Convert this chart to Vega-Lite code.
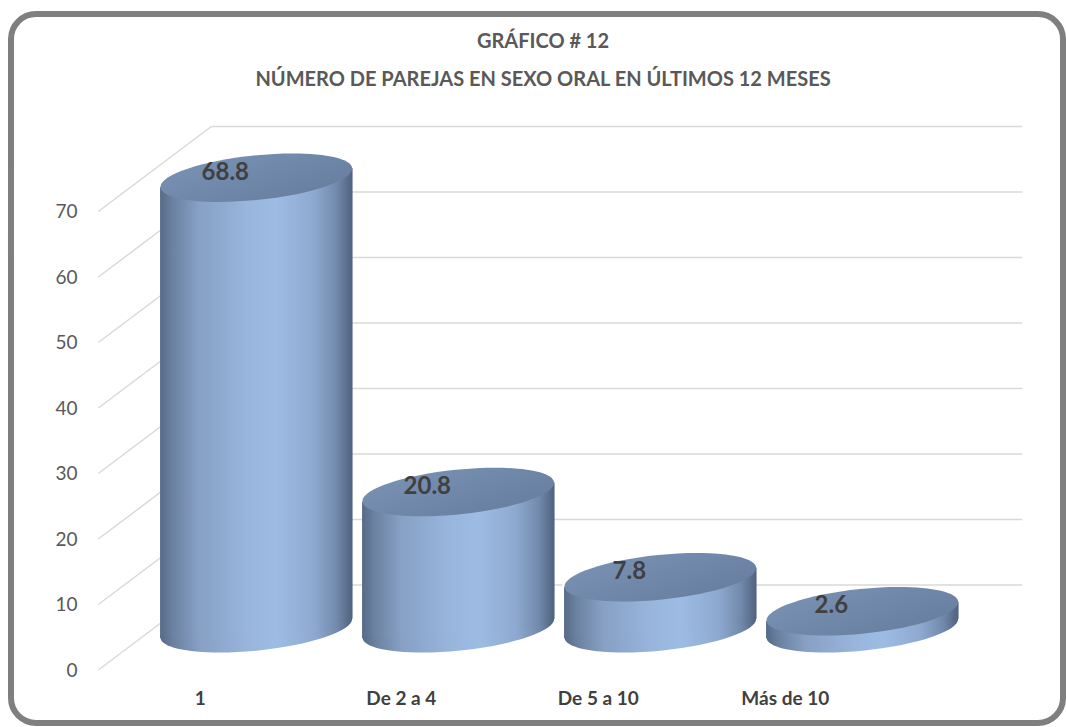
{
  "$schema": "https://vega.github.io/schema/vega-lite/v6.json",
  "width": 1052,
  "height": 709,
  "autosize": {"type": "none"},
  "padding": {"left": 11, "top": 14, "right": 3, "bottom": 4},
  "background": "white",
  "view": {"stroke": "#7f7f7f", "strokeWidth": 6, "cornerRadius": 25, "fill": "white"},
  "title": {
    "text": ["GRÁFICO # 12", "NÚMERO DE PAREJAS EN SEXO ORAL EN ÚLTIMOS 12 MESES"],
    "anchor": "middle",
    "frame": "group",
    "orient": "top",
    "offset": -96,
    "baseline": "bottom",
    "lineHeight": 38,
    "font": "Lato",
    "fontSize": 20,
    "fontWeight": "bold",
    "color": "#595959",
    "dx": 6
  },
  "data": {
    "values": [
      {"cat": "1", "value": 68.8},
      {"cat": "De 2 a 4", "value": 20.8},
      {"cat": "De 5 a 10", "value": 7.8},
      {"cat": "Más de 10", "value": 2.6}
    ]
  },
  "layer": [
    {
      "data": {"values": [{"v": 0}, {"v": 10}, {"v": 20}, {"v": 30}, {"v": 40}, {"v": 50}, {"v": 60}, {"v": 70}]},
      "mark": {"type": "rule", "color": "#d9d9d9", "strokeWidth": 1.5, "yOffset": -43.3, "xOffset": -45, "x2Offset": 160},
      "encoding": {
        "x": {"datum": "1", "type": "nominal", "scale": {"type": "band", "domain": ["1", "De 2 a 4", "De 5 a 10", "Más de 10"], "paddingInner": 0.047, "paddingOuter": 0.6275, "align": 0.588}, "axis": {"orient": "bottom", "offset": -34, "domain": false, "ticks": false, "tickSize": 0, "labelPadding": 0, "labelOffset": {"condition": [{"test": "datum.value === '1'", "value": -56}, {"test": "datum.value === 'De 2 a 4'", "value": -57}, {"test": "datum.value === 'De 5 a 10'", "value": -62}], "value": -77}, "labelFont": "Lato", "labelFontSize": 19, "labelFontWeight": "bold", "labelColor": "#404040", "labelAngle": 0, "title": null}},
        "x2": {"datum": "Más de 10"},
        "y": {
          "field": "v", "type": "quantitative",
          "scale": {"domain": [-14.46, 93.79], "nice": false, "zero": false},
          "axis": {"values": [0, 10, 20, 30, 40, 50, 60, 70], "orient": "left", "offset": -66, "domain": false, "ticks": false, "tickSize": 0, "grid": false, "labelPadding": 0, "labelOffset": 42, "labelFont": "Lato", "labelFontSize": 19, "labelColor": "#595959", "title": null}
        }
      }
    },
    {
      "data": {"values": [{"v": 0}, {"v": 10}, {"v": 20}, {"v": 30}, {"v": 40}, {"v": 50}, {"v": 60}, {"v": 70}]},
      "mark": {"type": "rule", "color": "#d9d9d9", "strokeWidth": 1.5, "xOffset": -158, "x2Offset": -45, "yOffset": 41.7, "y2Offset": -43.3},
      "encoding": {
        "x": {"datum": "1", "type": "nominal", "scale": {"type": "band", "domain": ["1", "De 2 a 4", "De 5 a 10", "Más de 10"], "paddingInner": 0.047, "paddingOuter": 0.6275, "align": 0.588}, "axis": {"orient": "bottom", "offset": -34, "domain": false, "ticks": false, "tickSize": 0, "labelPadding": 0, "labelOffset": {"condition": [{"test": "datum.value === '1'", "value": -56}, {"test": "datum.value === 'De 2 a 4'", "value": -57}, {"test": "datum.value === 'De 5 a 10'", "value": -62}], "value": -77}, "labelFont": "Lato", "labelFontSize": 19, "labelFontWeight": "bold", "labelColor": "#404040", "labelAngle": 0, "title": null}},
        "x2": {"datum": "1"},
        "y": {"field": "v", "type": "quantitative", "scale": {"domain": [-14.46, 93.79], "nice": false, "zero": false}, "axis": {"values": [0, 10, 20, 30, 40, 50, 60, 70], "orient": "left", "offset": -66, "domain": false, "ticks": false, "tickSize": 0, "grid": false, "labelPadding": 0, "labelOffset": 42, "labelFont": "Lato", "labelFontSize": 19, "labelColor": "#595959", "title": null}},
        "y2": {"field": "v"}
      }
    },
    {
      "mark": {
        "type": "bar", "yOffset": -9.73, "y2Offset": 9.73,
        "fill": {"x1": 0, "y1": 0, "x2": 1, "y2": 0, "gradient": "linear", "stops": [
          {"offset": 0, "color": "#566a89"}, {"offset": 0.06, "color": "#6a809f"}, {"offset": 0.2, "color": "#87a0c4"}, {"offset": 0.45, "color": "#98b5dc"}, {"offset": 0.6, "color": "#9dbce4"}, {"offset": 0.8, "color": "#8ea9cf"}, {"offset": 0.92, "color": "#7189ab"}, {"offset": 1, "color": "#4f617d"}]}
      },
      "encoding": {
        "x": {"field": "cat", "type": "nominal", "sort": null, "scale": {"type": "band", "domain": ["1", "De 2 a 4", "De 5 a 10", "Más de 10"], "paddingInner": 0.047, "paddingOuter": 0.6275, "align": 0.588}, "axis": {"orient": "bottom", "offset": -34, "domain": false, "ticks": false, "tickSize": 0, "labelPadding": 0, "labelOffset": {"condition": [{"test": "datum.value === '1'", "value": -56}, {"test": "datum.value === 'De 2 a 4'", "value": -57}, {"test": "datum.value === 'De 5 a 10'", "value": -62}], "value": -77}, "labelFont": "Lato", "labelFontSize": 19, "labelFontWeight": "bold", "labelColor": "#404040", "labelAngle": 0, "title": null}},
        "y": {"field": "value", "type": "quantitative", "scale": {"domain": [-14.46, 93.79], "nice": false, "zero": false}, "axis": {"values": [0, 10, 20, 30, 40, 50, 60, 70], "orient": "left", "offset": -66, "domain": false, "ticks": false, "tickSize": 0, "grid": false, "labelPadding": 0, "labelOffset": 42, "labelFont": "Lato", "labelFontSize": 19, "labelColor": "#595959", "title": null}},
        "y2": {"datum": 0}
      }
    },
    {
      "mark": {
        "type": "point", "filled": true, "opacity": 1, "strokeWidth": 0, "fill": "white",
        "shape": "M -1.0177 -0.1142 L 1.0177 -0.1142 L 1.0177 -0.1028 L -1.0177 0.1028 Z",
        "size": 37096
      },
      "encoding": {
        "x": {"field": "cat", "type": "nominal", "sort": null, "scale": {"type": "band", "domain": ["1", "De 2 a 4", "De 5 a 10", "Más de 10"], "paddingInner": 0.047, "paddingOuter": 0.6275, "align": 0.588}, "axis": {"orient": "bottom", "offset": -34, "domain": false, "ticks": false, "tickSize": 0, "labelPadding": 0, "labelOffset": {"condition": [{"test": "datum.value === '1'", "value": -56}, {"test": "datum.value === 'De 2 a 4'", "value": -57}, {"test": "datum.value === 'De 5 a 10'", "value": -62}], "value": -77}, "labelFont": "Lato", "labelFontSize": 19, "labelFontWeight": "bold", "labelColor": "#404040", "labelAngle": 0, "title": null}},
        "y": {"field": "value", "type": "quantitative", "scale": {"domain": [-14.46, 93.79], "nice": false, "zero": false}, "axis": {"values": [0, 10, 20, 30, 40, 50, 60, 70], "orient": "left", "offset": -66, "domain": false, "ticks": false, "tickSize": 0, "grid": false, "labelPadding": 0, "labelOffset": 42, "labelFont": "Lato", "labelFontSize": 19, "labelColor": "#595959", "title": null}}
      }
    },
    {
      "mark": {
        "type": "point", "filled": true, "opacity": 1, "strokeWidth": 0, "fill": "white",
        "shape": "M -1.0177 0.1028 L 1.0177 -0.1028 L 1.0177 0.1142 L -1.0177 0.1142 Z",
        "size": 37096
      },
      "encoding": {
        "x": {"field": "cat", "type": "nominal", "sort": null, "scale": {"type": "band", "domain": ["1", "De 2 a 4", "De 5 a 10", "Más de 10"], "paddingInner": 0.047, "paddingOuter": 0.6275, "align": 0.588}, "axis": {"orient": "bottom", "offset": -34, "domain": false, "ticks": false, "tickSize": 0, "labelPadding": 0, "labelOffset": {"condition": [{"test": "datum.value === '1'", "value": -56}, {"test": "datum.value === 'De 2 a 4'", "value": -57}, {"test": "datum.value === 'De 5 a 10'", "value": -62}], "value": -77}, "labelFont": "Lato", "labelFontSize": 19, "labelFontWeight": "bold", "labelColor": "#404040", "labelAngle": 0, "title": null}},
        "y": {"datum": 0, "type": "quantitative", "scale": {"domain": [-14.46, 93.79], "nice": false, "zero": false}, "axis": {"values": [0, 10, 20, 30, 40, 50, 60, 70], "orient": "left", "offset": -66, "domain": false, "ticks": false, "tickSize": 0, "grid": false, "labelPadding": 0, "labelOffset": 42, "labelFont": "Lato", "labelFontSize": 19, "labelColor": "#595959", "title": null}}
      }
    },
    {
      "mark": {
        "type": "point", "filled": true, "opacity": 1, "strokeWidth": 0,
        "shape": "M -1 -0.02 L -1 0 C -1 0.1279 -0.5523 0.2316 0 0.2316 C 0.5523 0.2316 1 0.1279 1 0 L 1 -0.02 Z",
        "size": 37096, "angle": 354.2,
        "fill": {"x1": 0, "y1": 0, "x2": 1, "y2": 0, "gradient": "linear", "stops": [
          {"offset": 0, "color": "#566a89"}, {"offset": 0.06, "color": "#6a809f"}, {"offset": 0.2, "color": "#87a0c4"}, {"offset": 0.45, "color": "#98b5dc"}, {"offset": 0.6, "color": "#9dbce4"}, {"offset": 0.8, "color": "#8ea9cf"}, {"offset": 0.92, "color": "#7189ab"}, {"offset": 1, "color": "#4f617d"}]}
      },
      "encoding": {
        "x": {"field": "cat", "type": "nominal", "sort": null, "scale": {"type": "band", "domain": ["1", "De 2 a 4", "De 5 a 10", "Más de 10"], "paddingInner": 0.047, "paddingOuter": 0.6275, "align": 0.588}, "axis": {"orient": "bottom", "offset": -34, "domain": false, "ticks": false, "tickSize": 0, "labelPadding": 0, "labelOffset": {"condition": [{"test": "datum.value === '1'", "value": -56}, {"test": "datum.value === 'De 2 a 4'", "value": -57}, {"test": "datum.value === 'De 5 a 10'", "value": -62}], "value": -77}, "labelFont": "Lato", "labelFontSize": 19, "labelFontWeight": "bold", "labelColor": "#404040", "labelAngle": 0, "title": null}},
        "y": {"datum": 0, "type": "quantitative", "scale": {"domain": [-14.46, 93.79], "nice": false, "zero": false}, "axis": {"values": [0, 10, 20, 30, 40, 50, 60, 70], "orient": "left", "offset": -66, "domain": false, "ticks": false, "tickSize": 0, "grid": false, "labelPadding": 0, "labelOffset": 42, "labelFont": "Lato", "labelFontSize": 19, "labelColor": "#595959", "title": null}}
      }
    },
    {
      "mark": {
        "type": "point", "filled": true, "opacity": 1, "strokeWidth": 0,
        "shape": "M -1 0 C -1 -0.1279 -0.5523 -0.2316 0 -0.2316 C 0.5523 -0.2316 1 -0.1279 1 0 C 1 0.1279 0.5523 0.2316 0 0.2316 C -0.5523 0.2316 -1 0.1279 -1 0 Z",
        "size": 37096, "angle": 354.2,
        "fill": {"x1": 0, "y1": 0, "x2": 1, "y2": 1, "gradient": "linear", "stops": [
          {"offset": 0, "color": "#7a92b4"}, {"offset": 0.5, "color": "#6f87a9"}, {"offset": 1, "color": "#667d9e"}]}
      },
      "encoding": {
        "x": {"field": "cat", "type": "nominal", "sort": null, "scale": {"type": "band", "domain": ["1", "De 2 a 4", "De 5 a 10", "Más de 10"], "paddingInner": 0.047, "paddingOuter": 0.6275, "align": 0.588}, "axis": {"orient": "bottom", "offset": -34, "domain": false, "ticks": false, "tickSize": 0, "labelPadding": 0, "labelOffset": {"condition": [{"test": "datum.value === '1'", "value": -56}, {"test": "datum.value === 'De 2 a 4'", "value": -57}, {"test": "datum.value === 'De 5 a 10'", "value": -62}], "value": -77}, "labelFont": "Lato", "labelFontSize": 19, "labelFontWeight": "bold", "labelColor": "#404040", "labelAngle": 0, "title": null}},
        "y": {"field": "value", "type": "quantitative", "scale": {"domain": [-14.46, 93.79], "nice": false, "zero": false}, "axis": {"values": [0, 10, 20, 30, 40, 50, 60, 70], "orient": "left", "offset": -66, "domain": false, "ticks": false, "tickSize": 0, "grid": false, "labelPadding": 0, "labelOffset": 42, "labelFont": "Lato", "labelFontSize": 19, "labelColor": "#595959", "title": null}}
      }
    },
    {
      "mark": {"type": "text", "dx": -31, "dy": -5, "font": "Lato", "fontSize": 24, "fontWeight": "bold", "color": "#404040"},
      "encoding": {
        "x": {"field": "cat", "type": "nominal", "sort": null, "scale": {"type": "band", "domain": ["1", "De 2 a 4", "De 5 a 10", "Más de 10"], "paddingInner": 0.047, "paddingOuter": 0.6275, "align": 0.588}, "axis": {"orient": "bottom", "offset": -34, "domain": false, "ticks": false, "tickSize": 0, "labelPadding": 0, "labelOffset": {"condition": [{"test": "datum.value === '1'", "value": -56}, {"test": "datum.value === 'De 2 a 4'", "value": -57}, {"test": "datum.value === 'De 5 a 10'", "value": -62}], "value": -77}, "labelFont": "Lato", "labelFontSize": 19, "labelFontWeight": "bold", "labelColor": "#404040", "labelAngle": 0, "title": null}},
        "y": {"field": "value", "type": "quantitative", "scale": {"domain": [-14.46, 93.79], "nice": false, "zero": false}, "axis": {"values": [0, 10, 20, 30, 40, 50, 60, 70], "orient": "left", "offset": -66, "domain": false, "ticks": false, "tickSize": 0, "grid": false, "labelPadding": 0, "labelOffset": 42, "labelFont": "Lato", "labelFontSize": 19, "labelColor": "#595959", "title": null}},
        "text": {"field": "value", "type": "quantitative", "format": ".1f"}
      }
    }
  ]
}
